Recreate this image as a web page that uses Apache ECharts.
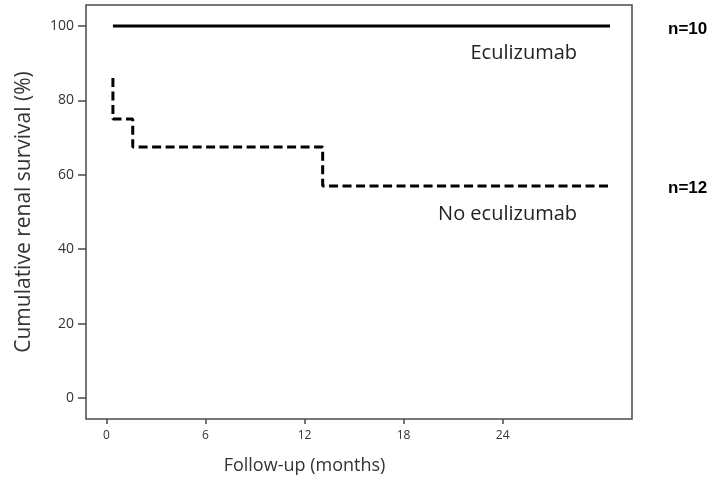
<!DOCTYPE html>
<html>
<head>
<meta charset="utf-8">
<script src="https://cdn.jsdelivr.net/npm/echarts@6/dist/echarts.min.js"></script>
<style>
html,body{margin:0;padding:0;background:#fff;}
#chart{width:713px;height:482px;}
</style>
</head>
<body>
<div id="chart"></div>
<script>
// Follow-up time (months) at each step, and cumulative renal survival (%)
const noEcuTimes = [0.4, 0.4, 1.6, 13.1, 30.5];
const noEcuSurvival = [86, 75, 67.5, 57, 57];
const ecuTimes = [0.4, 30.5];
const ecuSurvival = [100, 100];
const xTicks = [0, 6, 12, 18, 24];
const yTicks = [0, 20, 40, 60, 80, 100];
const seriesNames = ['Eculizumab', 'No eculizumab'];
const groupSizes = ['n=10', 'n=12'];
const xTitle = 'Follow-up (months)';
const yTitle = 'Cumulative renal survival (%)';

const chart = echarts.init(document.getElementById('chart'), null, {renderer: 'canvas'});
const font = '"Open Sans", "DejaVu Sans", sans-serif';
const axisColor = '#4a4a4a';

const grid = {left: 86, right: 81, top: 5, bottom: 63};

const option = {
  animation: false,
  backgroundColor: '#ffffff',
  grid: Object.assign({show: true, borderColor: axisColor, borderWidth: 1.5, backgroundColor: 'transparent'}, grid),
  xAxis: {
    type: 'value', min: -1.23, max: 31.83,
    splitLine: {show: false},
    axisLine: {show: false, onZero: false},
    axisTick: {show: true, length: 5, lineStyle: {color: axisColor, width: 1.5}, customValues: xTicks},
    axisLabel: {fontFamily: font, fontSize: 12, color: '#333', margin: 11, customValues: xTicks}
  },
  yAxis: {
    type: 'value', min: -5.65, max: 105.65,
    splitLine: {show: false},
    axisLine: {show: false, onZero: false},
    axisTick: {show: true, length: 8, lineStyle: {color: axisColor, width: 1.5}, customValues: yTicks},
    axisLabel: {fontFamily: font, fontSize: 14, color: '#333', margin: 12, customValues: yTicks}
  },
  series: [
    {
      name: seriesNames[0], type: 'line', symbol: 'none',
      data: ecuTimes.map((t, i) => [t, ecuSurvival[i]]),
      lineStyle: {color: '#000', width: 3, type: 'solid'}
    },
    {
      name: seriesNames[1], type: 'line', symbol: 'none', step: 'end',
      data: noEcuTimes.map((t, i) => [t, noEcuSurvival[i]]),
      lineStyle: {color: '#000', width: 3, type: [9, 4.5], cap: 'butt'}
    }
  ]
};
chart.setOption(option);

// Position annotation texts via the chart's own coordinate conversion
function px(x, y) { return chart.convertToPixel({gridIndex: 0}, [x, y]); }
const ecuEnd = px(ecuTimes[ecuTimes.length - 1], ecuSurvival[ecuSurvival.length - 1]);
const noEnd = px(noEcuTimes[noEcuTimes.length - 1], noEcuSurvival[noEcuSurvival.length - 1]);
const gridRight = 713 - grid.right;
const plotMidY = grid.top + (482 - grid.top - grid.bottom) / 2;
const x12 = px(12, 0)[0];

chart.setOption({
  graphic: [
    {type: 'text', x: ecuEnd[0] - 33, y: ecuEnd[1] + 37, style: {text: seriesNames[0], font: '20px ' + font, fill: '#222', textAlign: 'right', textVerticalAlign: 'bottom'}},
    {type: 'text', x: noEnd[0] - 33, y: noEnd[1] + 38, style: {text: seriesNames[1], font: '20px ' + font, fill: '#222', textAlign: 'right', textVerticalAlign: 'bottom'}},
    {type: 'text', x: gridRight + 36, y: ecuEnd[1] + 3, style: {text: groupSizes[0], font: 'bold 17px "Liberation Sans", Arial, sans-serif', fill: '#000', textAlign: 'left', textVerticalAlign: 'middle'}},
    {type: 'text', x: gridRight + 36, y: noEnd[1] + 2, style: {text: groupSizes[1], font: 'bold 17px "Liberation Sans", Arial, sans-serif', fill: '#000', textAlign: 'left', textVerticalAlign: 'middle'}},
    {type: 'text', x: x12, y: 466, style: {text: xTitle, font: '18px ' + font, fill: '#333', textAlign: 'center', textVerticalAlign: 'middle'}},
    {type: 'text', x: 24, y: plotMidY, rotation: Math.PI / 2, style: {text: yTitle, font: '21px ' + font, fill: '#333', textAlign: 'center', textVerticalAlign: 'middle'}}
  ]
});
</script>
</body>
</html>
